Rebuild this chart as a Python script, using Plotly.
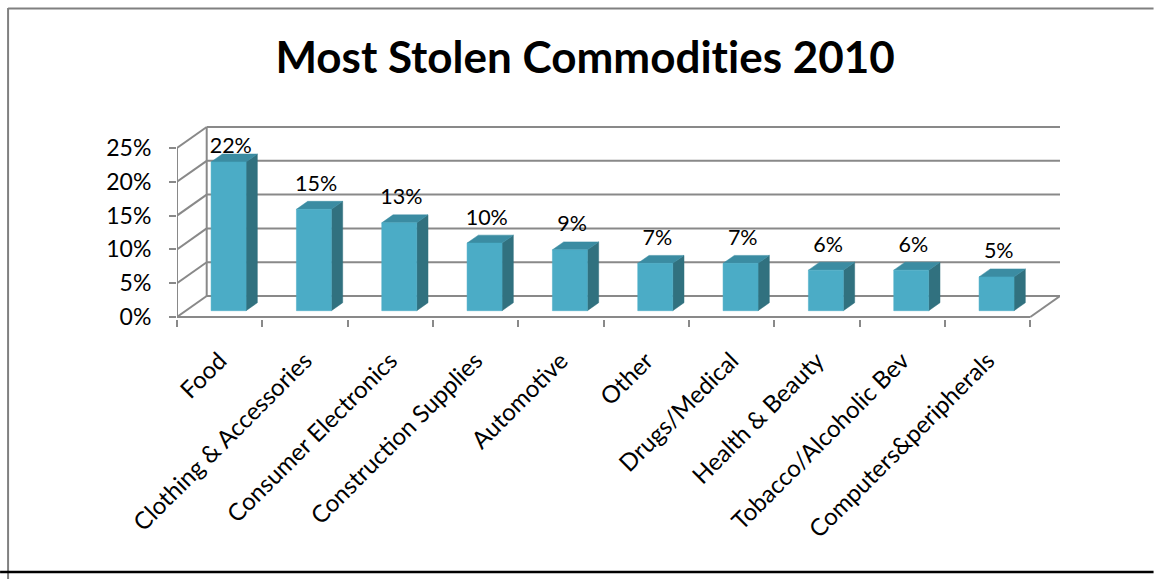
import plotly.graph_objects as go

# ---------------- data ----------------
categories = ["Food", "Clothing & Accessories", "Consumer Electronics",
              "Construction Supplies", "Automotive", "Other", "Drugs/Medical",
              "Health & Beauty", "Tobacco/Alcoholic Bev", "Computers&peripherals"]
values = [22, 15, 13, 10, 9, 7, 7, 6, 6, 5]
y_ticks = [0, 5, 10, 15, 20, 25]
title_text = "Most Stolen Commodit\u200cies 2010"

# ---------------- geometry (data units) ----------------
W, H = 1154, 579
DX, DY = 0.348, 3.1          # depth of the 3-D floor in x-units / % units
BAR_HALF = 0.205
D_FRONT, D_BACK = 0.30, 0.68
LABEL_GAP = 0.75
LABEL_CAP = 23.5             # labels kept inside the plot area (as Excel does)
n = len(categories)
x0, x1 = -0.5, n - 0.5 + DX
y0, y1 = -0.3, 28.4

L_px, R_px = 177, 1060.4
T_px, B_px = 125, 319

FONT = "Lato"
GRID = "#898989"
FRONT_C, TOP_C, SIDE_C = "#4BACC6", "#3B8CA2", "#31717F"

fig = go.Figure()

# ---- walls / grid ----
gx, gy = [], []
for t in y_ticks:
    gx += [x0 + DX, x1, None]; gy += [t + DY, t + DY, None]       # back wall
    gx += [x0, x0 + DX, None]; gy += [t, t + DY, None]             # side wall
gx += [x0 + DX, x0 + DX, None]; gy += [DY, y_ticks[-1] + DY, None]  # back-left edge
gx += [x0, x0, None]; gy += [0, y_ticks[-1], None]                  # front-left axis
gx += [x0, n - 0.5, None]; gy += [0, 0, None]                       # floor front edge
gx += [n - 0.5, n - 0.5 + DX, None]; gy += [0, DY, None]            # floor right edge
fig.add_trace(go.Scatter(x=gx, y=gy, mode="lines",
                         line=dict(color=GRID, width=2), hoverinfo="skip"))

# ---- bars ----
fx, fy, sx, sy, tx, ty = [], [], [], [], [], []
ddx, ddy = (D_BACK - D_FRONT) * DX, (D_BACK - D_FRONT) * DY
lab_x, lab_y, lab_t = [], [], []
for i, v in enumerate(values):
    xl = i - BAR_HALF + D_FRONT * DX
    xr = i + BAR_HALF + D_FRONT * DX
    yb = D_FRONT * DY
    yt = v + D_FRONT * DY
    fx += [xl, xr, xr, xl, xl, None]; fy += [yb, yb, yt, yt, yb, None]
    sx += [xr, xr + ddx, xr + ddx, xr, xr, None]
    sy += [yb, yb + ddy, yt + ddy, yt, yb, None]
    tx += [xl, xr, xr + ddx, xl + ddx, xl, None]
    ty += [yt, yt, yt + ddy, yt + ddy, yt, None]
    lab_x.append(i + 0.13)
    lab_y.append(min(v + D_BACK * DY + LABEL_GAP, LABEL_CAP))
    lab_t.append(f"{v}%")

for X, Y, C in [(sx, sy, SIDE_C), (tx, ty, TOP_C), (fx, fy, FRONT_C)]:
    fig.add_trace(go.Scatter(x=X, y=Y, mode="lines", fill="toself",
                             fillcolor=C, line=dict(color=C, width=0.5),
                             hoverinfo="skip"))

fig.add_trace(go.Scatter(x=lab_x, y=lab_y, mode="text", text=lab_t,
                         textposition="top center", cliponaxis=False,
                         textfont=dict(family=FONT, size=21.5, color="black"),
                         hoverinfo="skip"))

# invisible trace for the label axis
fig.add_trace(go.Scatter(x=[0], y=[0], xaxis="x2", mode="markers",
                         marker=dict(opacity=0), hoverinfo="skip"))

# ---- frame decorations (paper coords) ----
Wp = R_px - L_px
Hp = B_px - T_px
def px(xp): return (xp - L_px) / Wp
def py(yp): return (B_px - yp) / Hp

shapes = [
    dict(type="line", xref="paper", yref="paper", x0=px(8), x1=px(1154),
         y0=py(8.5), y1=py(8.5), line=dict(color="#808080", width=2)),
    dict(type="line", xref="paper", yref="paper", x0=px(8), x1=px(8),
         y0=py(8), y1=py(579), line=dict(color="#808080", width=2)),
    dict(type="line", xref="paper", yref="paper", x0=px(0), x1=px(1154),
         y0=py(572), y1=py(572), line=dict(color="black", width=2.5)),
]

fig.update_layout(
    width=W, height=H,
    margin=dict(l=L_px, r=W - R_px, t=T_px, b=H - B_px, autoexpand=False),
    paper_bgcolor="white", plot_bgcolor="white",
    showlegend=False, hovermode=False,
    font=dict(family=FONT, color="black"),
    title=dict(text=f"<b>{title_text}</b>", x=0.507, xanchor="center",
               xref="container", y=1 - 58 / H, yanchor="middle",
               yref="container", font=dict(family=FONT, size=44, color="black")),
    xaxis=dict(range=[x0, x1], showgrid=False, zeroline=False, showline=False,
               tickmode="array", tickvals=[k - 0.5 for k in range(n + 1)],
               showticklabels=False, ticks="outside", ticklen=7,
               tickwidth=2, tickcolor=GRID, fixedrange=True),
    xaxis2=dict(range=[x0, x1], overlaying="x", anchor="y", side="bottom",
                showgrid=False, zeroline=False, showline=False,
                tickmode="array", tickvals=list(range(n)), ticktext=categories,
                tickangle=-45, ticks="", ticklabelstandoff=22,
                tickfont=dict(family=FONT, size=24, color="black"),
                fixedrange=True),
    yaxis=dict(range=[y0, y1], showgrid=False, zeroline=False, showline=False,
               tickmode="array", tickvals=y_ticks,
               ticktext=[f"{t}%" for t in y_ticks],
               ticks="outside", ticklen=7, tickwidth=2, tickcolor=GRID,
               ticklabelstandoff=13,
               tickfont=dict(family=FONT, size=23, color="black"),
               fixedrange=True),
    shapes=shapes,
)

fig.write_html("out.html", config={"displayModeBar": False})
